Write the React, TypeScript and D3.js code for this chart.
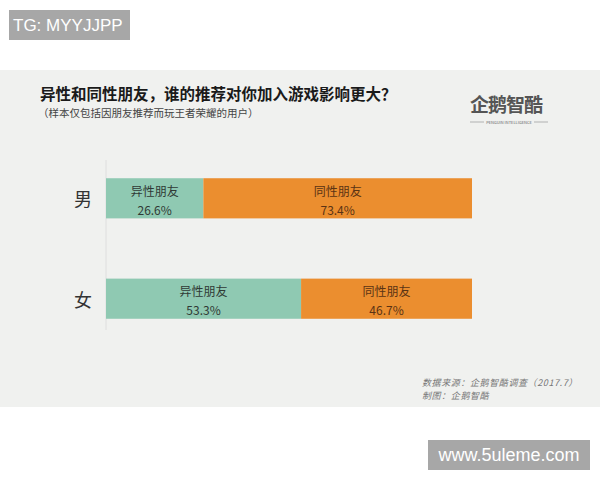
import * as d3 from 'd3';

// 数据
const groups = ['男', '女'];
const seriesNames = ['异性朋友', '同性朋友'];
const oppositeSex = [26.6, 53.3];
const sameSex = [73.4, 46.7];
const seriesColors = ['#8fc9b2', '#eb8e2f'];
const seriesTextColors = ['#2f3a35', '#5a3314'];

const title = '异性和同性朋友，谁的推荐对你加入游戏影响更大？';
const subtitle = '（样本仅包括因朋友推荐而玩王者荣耀的用户）';
const sourceLines = ['数据来源：企鹅智酷调查（2017.7）', '制图：企鹅智酷'];

const W = 600;
const H = 480;
const FONT = '"Noto Sans CJK SC", "Noto Sans", sans-serif';

export default function App() {
  const x = d3.scaleLinear().domain([0, 100]).range([106, 472]);
  const y = d3.scaleBand<string>().domain(groups).range([118, 379]).paddingInner(0.6).paddingOuter(0.6);
  const bh = y.bandwidth();

  const rows = groups.map((g, i) => {
    const vals = [oppositeSex[i], sameSex[i]];
    const stack = d3.cumsum(vals);
    return vals.map((v, j) => ({
      group: g,
      name: seriesNames[j],
      value: v,
      x0: j === 0 ? 0 : stack[j - 1],
      x1: stack[j],
      j,
    }));
  });

  return (
    <svg width={W} height={H} style={{ position: 'absolute', left: 0, top: 0 }} fontFamily={FONT}>
      <rect x={0} y={0} width={W} height={H} fill="#ffffff" />

      {/* 水印 */}
      <rect x={9} y={10} width={121} height={30} fill="#a7a7a7" />
      <text x={13} y={31} fontSize={17} fill="#ffffff" fontFamily="'Liberation Sans', Arial, sans-serif">TG: MYYJJPP</text>

      {/* 面板 */}
      <rect x={0} y={70} width={W} height={337} fill="#f0f1ef" />

      <text x={40} y={100} fontSize={15.5} fontWeight="bold" fill="#1a1a1a">{title}</text>
      <text x={38} y={117} fontSize={10.5} fill="#444">{subtitle}</text>

      {/* logo */}
      <g fill="#555">
        <text x={470} y={112} fontSize={19} fontWeight="bold" letterSpacing={-1}>企鹅智酷</text>
        <line x1={470} x2={548} y1={122} y2={122} stroke="#888" strokeWidth={0.6} />
        <rect x={484} y={119} width={50} height={6} fill="#f0f1ef" />
        <text x={509} y={124} fontSize={4} textAnchor="middle" fill="#666">PENGUIN INTELLIGENCE</text>
      </g>

      {/* 轴线 */}
      <line x1={x(0)} x2={x(0)} y1={160} y2={330} stroke="#dedede" strokeWidth={1} />

      {groups.map((g) => (
        <text key={g} x={83} y={(y(g) ?? 0) + bh / 2} fontSize={18} fill="#333" textAnchor="middle" dominantBaseline="central">
          {g}
        </text>
      ))}

      {rows.flat().map((d) => {
        const y0 = y(d.group) ?? 0;
        const cx = (x(d.x0) + x(d.x1)) / 2;
        return (
          <g key={d.group + d.name}>
            <rect x={x(d.x0)} y={y0} width={x(d.x1) - x(d.x0)} height={bh} fill={seriesColors[d.j]} />
            <text x={cx} y={y0 + 12} fontSize={12} fill={seriesTextColors[d.j]} textAnchor="middle" dominantBaseline="central">
              {d.name}
            </text>
            <text x={cx} y={y0 + 31} fontSize={12} fill={seriesTextColors[d.j]} textAnchor="middle" dominantBaseline="central">
              {d.value.toFixed(1)}%
            </text>
          </g>
        );
      })}

      {sourceLines.map((s, i) => (
        <text key={s} x={422} y={386 + i * 13} fontSize={9} letterSpacing={0.6} fontStyle="italic" fill="#777">
          {s}
        </text>
      ))}

      <rect x={428} y={440} width={162} height={30} fill="#a7a7a7" />
      <text x={509} y={461} fontSize={18} fill="#ffffff" textAnchor="middle" fontFamily="'Liberation Sans', Arial, sans-serif">www.5uleme.com</text>
    </svg>
  );
}
